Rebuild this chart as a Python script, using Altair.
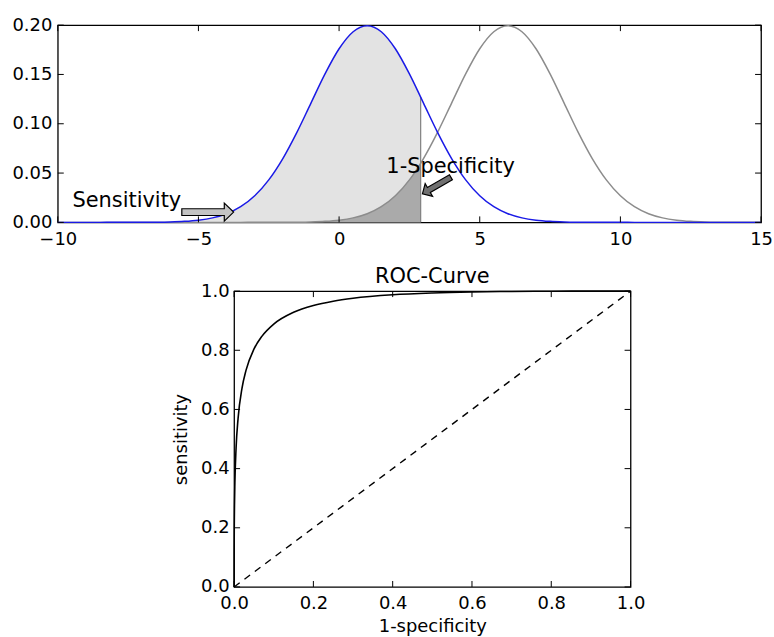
import altair as alt
import pandas as pd

# ---------------- data ----------------
x_grid = [-10.0, -9.5, -9.0, -8.5, -8.0, -7.5, -7.0, -6.5, -6.0, -5.5,
          -5.0, -4.5, -4.0, -3.5, -3.0, -2.5, -2.0, -1.5, -1.0, -0.5,
          0.0, 0.5, 1.0, 1.5, 2.0, 2.5, 3.0, 3.5, 4.0, 4.5,
          5.0, 5.5, 6.0, 6.5, 7.0, 7.5, 8.0, 8.5, 9.0, 9.5,
          10.0, 10.5, 11.0, 11.5, 12.0, 12.5, 13.0, 13.5, 14.0, 14.5, 15.0]

blue_pdf = [0.0, 0.0, 0.0, 0.0, 0.00001, 0.00002, 0.00007, 0.00018, 0.00044, 0.00102,
            0.00222, 0.00455, 0.00876, 0.01587, 0.02700, 0.04314, 0.06476, 0.09132, 0.12099, 0.15057,
            0.17603, 0.19333, 0.19947, 0.19333, 0.17603, 0.15057, 0.12099, 0.09132, 0.06476, 0.04314,
            0.02700, 0.01587, 0.00876, 0.00455, 0.00222, 0.00102, 0.00044, 0.00018, 0.00007, 0.00002,
            0.00001, 0.0, 0.0, 0.0, 0.0, 0.0, 0.0, 0.0, 0.0, 0.0, 0.0]

gray_pdf = [0.0, 0.0, 0.0, 0.0, 0.0, 0.0, 0.0, 0.0, 0.0, 0.0,
            0.0, 0.0, 0.0, 0.0, 0.00001, 0.00002, 0.00007, 0.00018, 0.00044, 0.00102,
            0.00222, 0.00455, 0.00876, 0.01587, 0.02700, 0.04314, 0.06476, 0.09132, 0.12099, 0.15057,
            0.17603, 0.19333, 0.19947, 0.19333, 0.17603, 0.15057, 0.12099, 0.09132, 0.06476, 0.04314,
            0.02700, 0.01587, 0.00876, 0.00455, 0.00222, 0.00102, 0.00044, 0.00018, 0.00007, 0.00002,
            0.00001]

threshold = 2.9
blue_at_threshold = 0.12703
gray_at_threshold = 0.06001

fpr = [0.0, 0.0001, 0.0005, 0.001, 0.002, 0.005, 0.01, 0.02, 0.03, 0.05, 0.07,
       0.1, 0.15, 0.2, 0.25, 0.3, 0.4, 0.5, 0.6, 0.7, 0.8, 0.9, 1.0]
tpr = [0.0, 0.1114, 0.2145, 0.2776, 0.3527, 0.4697, 0.5690, 0.6722, 0.7320, 0.8037, 0.8471,
       0.8885, 0.9283, 0.9514, 0.9660, 0.9759, 0.9877, 0.9938, 0.9971, 0.9988, 0.9996, 0.9999, 1.0]
diag_vals = [0.0, 1.0]

top_xticks = [-10, -5, 0, 5, 10, 15]
top_yticks = [0.0, 0.05, 0.10, 0.15, 0.20]
roc_ticks = [0.0, 0.2, 0.4, 0.6, 0.8, 1.0]

ann_text = ["Sensitivity", "1-Specificity"]
ann_x = [-9.48, 1.68]
ann_y = [0.0152, 0.0502]
arrow_x = [-4.67, 3.47]
arrow_y = [0.0104, 0.0374]
arrow_angle = [0, 150]

# ---------------- styling ----------------
FONT = "DejaVu Sans"
W1, H1 = 706, 198
W2, H2 = 398, 297
TICK = 6
SPACER_W = 113

df = pd.DataFrame({"x": x_grid, "blue": blue_pdf, "gray": gray_pdf})
shade = pd.concat([
    df[df["x"] <= threshold],
    pd.DataFrame({"x": [threshold], "blue": [blue_at_threshold], "gray": [gray_at_threshold]}),
], ignore_index=True)
thr_df = pd.DataFrame({"x": [threshold], "y0": [0.0], "y1": [blue_at_threshold]})

xs1 = alt.Scale(domain=[-10, 15], nice=False, zero=False)
ys1 = alt.Scale(domain=[0, 0.2], nice=False)

common_axis = dict(ticks=False, domain=False, grid=False, labelFlush=False, labelOverlap=False,
                   labelFontSize=18, labelFont=FONT, labelColor="black")

xaxis1 = alt.Axis(values=top_xticks, labelPadding=8, title=None, **common_axis)
yaxis1 = alt.Axis(values=top_yticks, format=".2f", labelPadding=6, title=None,
                  minExtent=55, maxExtent=55, **common_axis)

base1 = alt.Chart(df)
light = alt.Chart(shade).mark_area(color="#e3e3e3", interpolate="monotone").encode(
    x=alt.X("x:Q", scale=xs1, axis=xaxis1), y=alt.Y("blue:Q", scale=ys1, axis=yaxis1))
dark = alt.Chart(shade).mark_area(color="#aaaaaa", interpolate="monotone").encode(
    x="x:Q", y="gray:Q")
thr_rule = alt.Chart(thr_df).mark_rule(color="#808080", strokeWidth=1.2).encode(
    x="x:Q", y="y0:Q", y2="y1:Q")
blue_line = base1.mark_line(color="#1a1ae6", strokeWidth=1.5, interpolate="monotone").encode(
    x="x:Q", y="blue:Q")
gray_line = base1.mark_line(color="#8c8c8c", strokeWidth=1.5, interpolate="monotone").encode(
    x="x:Q", y="gray:Q")

xt1 = pd.DataFrame({"t": top_xticks})
yt1 = pd.DataFrame({"t": top_yticks})
tick_color = "black"
ticks1 = alt.layer(
    alt.Chart(xt1).mark_rule(color=tick_color).encode(x="t:Q", y=alt.value(0), y2=alt.value(TICK)),
    alt.Chart(xt1).mark_rule(color=tick_color).encode(x="t:Q", y=alt.value(H1), y2=alt.value(H1 - TICK)),
    alt.Chart(yt1).mark_rule(color=tick_color).encode(y="t:Q", x=alt.value(0), x2=alt.value(TICK)),
    alt.Chart(yt1).mark_rule(color=tick_color).encode(y="t:Q", x=alt.value(W1), x2=alt.value(W1 - TICK)),
)

ann_df = pd.DataFrame({"x": ann_x, "y": ann_y, "t": ann_text})
texts = alt.Chart(ann_df).mark_text(align="left", baseline="alphabetic", fontSize=21,
                                    font=FONT, color="black").encode(x="x:Q", y="y:Q", text="t:N")

arr_df = pd.DataFrame({"x": arrow_x, "y": arrow_y, "a": arrow_angle})
path_long = "M -1 -0.13 L 0.64 -0.13 L 0.64 -0.35 L 1 0 L 0.64 0.35 L 0.64 0.13 L -1 0.13 Z"
path_short = "M -1 -0.18 L 0.55 -0.18 L 0.55 -0.45 L 1 0 L 0.55 0.45 L 0.55 0.18 L -1 0.18 Z"
arrow1 = alt.Chart(arr_df.iloc[[0]]).mark_point(
    shape=path_long, size=52 * 52, filled=True, fill="#c4c4c4", stroke="black",
    strokeWidth=1.2, opacity=1).encode(x="x:Q", y="y:Q", angle=alt.Angle("a:Q", scale=None))
arrow2 = alt.Chart(arr_df.iloc[[1]]).mark_point(
    shape=path_short, size=33 * 33, filled=True, fill="#707070", stroke="black",
    strokeWidth=1.2, opacity=1).encode(x="x:Q", y="y:Q", angle=alt.Angle("a:Q", scale=None))

top = alt.layer(light, dark, thr_rule, gray_line, blue_line, ticks1, texts, arrow1, arrow2).properties(
    width=W1, height=H1)

# ---------------- ROC ----------------
roc_df = pd.DataFrame({"fpr": fpr, "tpr": tpr})
diag_df = pd.DataFrame({"a": diag_vals, "b": diag_vals})
s2 = alt.Scale(domain=[0, 1], nice=False)
xaxis2 = alt.Axis(values=roc_ticks, format=".1f", labelPadding=8,
                  title="1-specificity", titleFont=FONT, titleFontSize=18, titleFontWeight="normal",
                  titleColor="black", titlePadding=5, **common_axis)
yaxis2 = alt.Axis(values=roc_ticks, format=".1f", labelPadding=5,
                  title="sensitivity", titleFont=FONT, titleFontSize=18, titleFontWeight="normal",
                  titleColor="black", titlePadding=4, minExtent=40, maxExtent=40, **common_axis)

roc_line = alt.Chart(roc_df).mark_line(color="black", strokeWidth=1.6, interpolate="monotone").encode(
    x=alt.X("fpr:Q", scale=s2, axis=xaxis2), y=alt.Y("tpr:Q", scale=s2, axis=yaxis2))
diag_line = alt.Chart(diag_df).mark_line(color="black", strokeWidth=1.4, strokeDash=[7, 6]).encode(
    x="a:Q", y="b:Q")
rt = pd.DataFrame({"t": roc_ticks})
ticks2 = alt.layer(
    alt.Chart(rt).mark_rule(color=tick_color).encode(x="t:Q", y=alt.value(0), y2=alt.value(TICK)),
    alt.Chart(rt).mark_rule(color=tick_color).encode(x="t:Q", y=alt.value(H2), y2=alt.value(H2 - TICK)),
    alt.Chart(rt).mark_rule(color=tick_color).encode(y="t:Q", x=alt.value(0), x2=alt.value(TICK)),
    alt.Chart(rt).mark_rule(color=tick_color).encode(y="t:Q", x=alt.value(W2), x2=alt.value(W2 - TICK)),
)
bottom = alt.layer(diag_line, roc_line, ticks2).properties(
    width=W2, height=H2,
    title=alt.TitleParams("ROC-Curve", font=FONT, fontSize=21, fontWeight="normal",
                          color="black", anchor="middle", offset=-5))

spacer = alt.Chart(pd.DataFrame({"a": [0]})).mark_point(opacity=0).encode(
    x=alt.value(0), y=alt.value(0)
).properties(width=SPACER_W, height=H2, view=alt.ViewBackground(stroke="transparent"))

bottom_row = alt.hconcat(spacer, bottom, spacing=0)

chart = alt.vconcat(top, bottom_row, spacing=16).properties(
    padding={"left": 2, "top": 14, "right": 0, "bottom": 0}
).configure(background="white").configure_view(stroke="black", strokeWidth=1.3)

chart.save("out.html", embed_options={"renderer": "svg", "actions": False})
